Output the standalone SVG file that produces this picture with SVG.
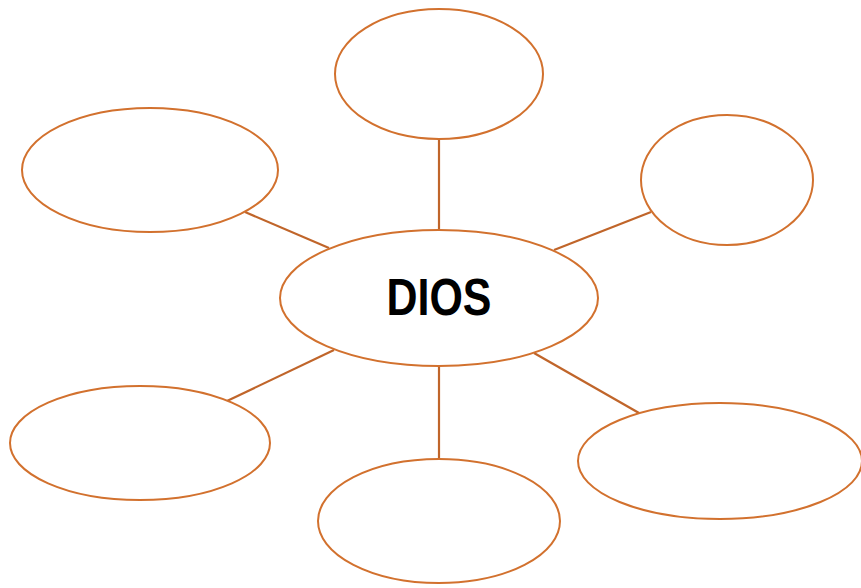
<svg xmlns="http://www.w3.org/2000/svg" width="861" height="588" viewBox="0 0 861 588">
<style>
.n{fill:#fff;stroke:#D2712E;stroke-width:2}
.c line{stroke:#C0652A;stroke-width:2.2}
.t{font-family:"Liberation Sans",Arial,sans-serif;font-weight:bold;font-size:51px;fill:#000}
</style>
<rect width="861" height="588" fill="#fff"/>
<g class="c" id="connectors">
<line x1="439" y1="140" x2="439" y2="231"/>
<line x1="245" y1="212" x2="329" y2="248"/>
<line x1="651" y1="212" x2="554" y2="250"/>
<line x1="334" y1="350" x2="227" y2="401"/>
<line x1="439" y1="366" x2="439" y2="459"/>
<line x1="534" y1="353" x2="639" y2="413"/>
</g>
<g id="top"><ellipse class="n" cx="439" cy="74" rx="104" ry="65"/></g>
<g id="topleft"><ellipse class="n" cx="150" cy="170" rx="128" ry="62"/></g>
<g id="right"><ellipse class="n" cx="727" cy="180" rx="86" ry="65"/></g>
<g id="bottomleft"><ellipse class="n" cx="140" cy="443" rx="130" ry="57"/></g>
<g id="bottom"><ellipse class="n" cx="439" cy="521" rx="121" ry="62"/></g>
<g id="bottomright"><ellipse class="n" cx="720" cy="461" rx="142" ry="58"/></g>
<g id="center"><ellipse class="n" cx="439" cy="298" rx="159" ry="68"/>
<text class="t" x="439" y="315" text-anchor="middle" textLength="105" lengthAdjust="spacingAndGlyphs">DIOS</text></g>
</svg>
